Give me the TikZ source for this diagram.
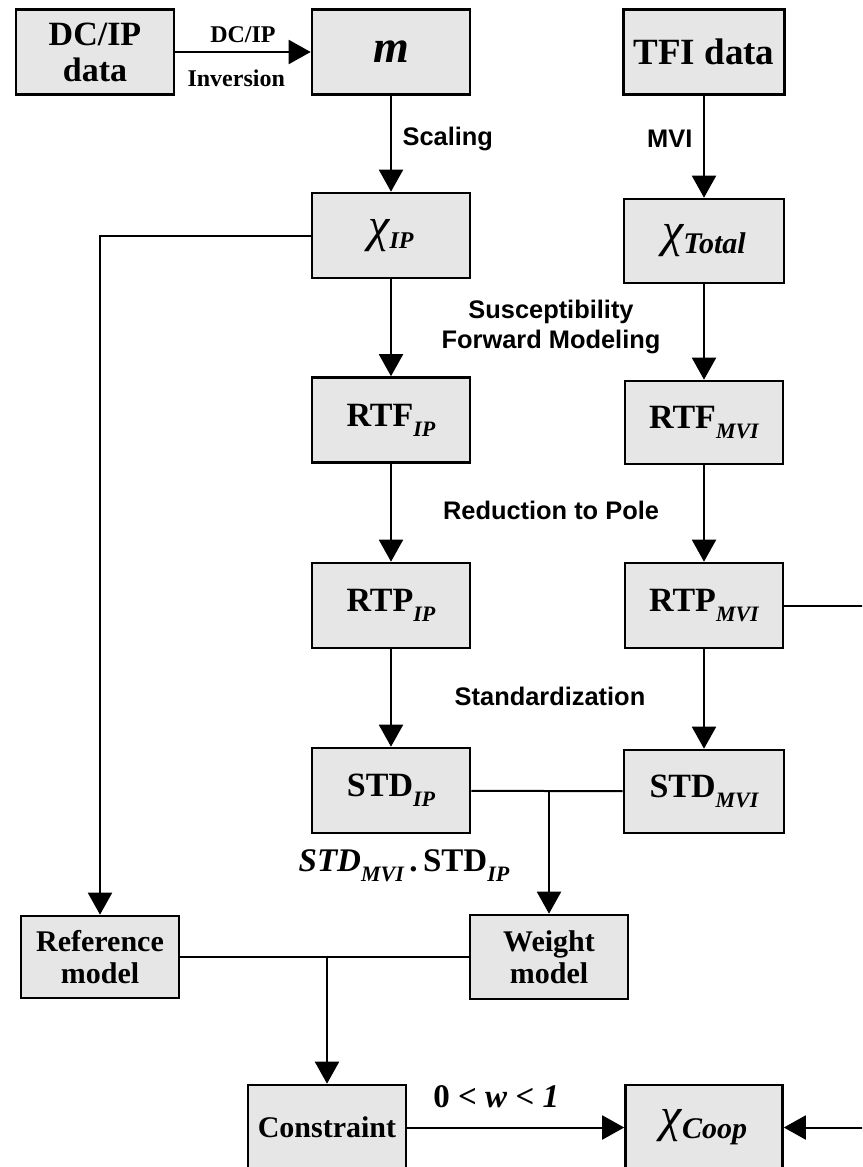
\documentclass[tikz,border=0pt]{standalone}
\usepackage{fontspec}
\setmainfont{Liberation Serif}
\setsansfont{Liberation Sans}
\usetikzlibrary{arrows.meta}
\definecolor{boxgray}{RGB}{230,230,230}
\newcommand{\idx}[2][11]{\raisebox{-5pt}{\fontsize{#1}{#1}\selectfont\bfseries\itshape #2}}
\newcommand{\chiof}[2][15]{{\fontseries{m}\itshape\fontsize{24}{26}\selectfont χ}\raisebox{-3.5pt}{\fontsize{#1}{#1}\selectfont\bfseries\itshape #2}}

\begin{document}
\begin{tikzpicture}[
	x=0.5pt, y=-0.5pt, line width=1pt,
	>={Triangle[length=11pt, width=12pt]},
	box/.style={draw, line width=1.3pt, fill=boxgray, inner sep=0pt, align=center,
		minimum width=79pt, minimum height=42.5pt, font=\bfseries\fontsize{17}{18}\selectfont},
	small/.style={box, font=\bfseries\fontsize{15}{16}\selectfont, minimum height=41pt},
	lbl/.style={font=\sffamily\bfseries\fontsize{12.7}{15}\selectfont, align=center},
	tlbl/.style={font=\bfseries\fontsize{12}{14}\selectfont}
	]
	\useasboundingbox (0,0) rectangle (862,1167);
	\clip (0,0) rectangle (862,1167);
	% boxes
	\node[box] (dcip) at (95,52) {DC/IP\\data};
	\node[box, font=\bfseries\itshape\fontsize{23}{24}\selectfont] (m) at (391,52) {m};
	\node[box, minimum width=80.5pt, font=\bfseries\fontsize{18.5}{20}\selectfont] (tfi) at (704,52) {TFI data};
	\node[box] (chiip) at (391,235.5) {\chiof[12]{IP}};
	\node[box, minimum width=80pt, minimum height=42pt] (chitot) at (704,241) {\chiof{Total}};
	\node[box] (rtfip) at (391,420) {RTF\idx{IP}};
	\node[box, minimum height=41.5pt] (rtfmvi) at (704,422.5) {RTF\idx{MVI}};
	\node[box] (rtpip) at (391,605.5) {RTP\idx{IP}};
	\node[box] (rtpmvi) at (704,605.5) {RTP\idx{MVI}};
	\node[box] (stdip) at (391,790.5) {STD\idx{IP}};
	\node[box, minimum width=80pt, minimum height=41.5pt] (stdmvi) at (704,791.5) {STD\idx{MVI}};
	\node[small] (refm) at (100,957) {Reference\\model};
	\node[small, minimum height=42pt] (weight) at (549,957) {Weight\\model};
	\node[small, minimum height=42.5pt] (cons) at (327,1127.5) {Constraint};
	\node[box, minimum width=78.5pt] (coop) at (704,1127.5) {\chiof{Coop}};
	% labels between columns
	\node[lbl] (suscep) at (551,327) {Susceptibility\\Forward Modeling};
	\node[lbl] (redpole) at (551,510) {Reduction to Pole};
	\node[lbl] (stdz) at (550,696) {Standardization};
	\node[font=\bfseries\fontsize{16.5}{18}\selectfont] (prod) at (404,866) {\textit{STD\idx{MVI}}\,.\,STD\idx{IP}};
	% connectors
	\path[->]
	(dcip) edge node[above=1pt, tlbl] {DC/IP} node[below=5pt, tlbl, pos=0.45] {Inversion} (m)
	(m) edge node[right=2pt, lbl, pos=0.45] {Scaling} (chiip)
	(tfi) edge node[left=2pt, lbl, pos=0.42] {MVI} (chitot)
	(chiip) edge (rtfip)
	(chitot) edge (rtfmvi)
	(rtfip) edge (rtpip)
	(rtfmvi) edge (rtpmvi)
	(rtpip) edge (stdip)
	(rtpmvi) edge (stdmvi)
	(cons) edge node[above=6pt, pos=0.41, font=\bfseries\fontsize{16.5}{18}\selectfont] {0 < \textit{w} < \textit{1}} (coop);
	\draw[->] (chiip) -| (refm);
	\draw (stdip) -- (stdmvi);
	\draw[->] (stdip.east -| weight.north) -- (weight);
	\draw (refm) -- (weight);
	\draw[->] (refm.east -| cons.north) -- (cons);
	\coordinate (rim) at (880,605.5);
	\draw[->] (rtpmvi) -- (rim) |- (coop);
\end{tikzpicture}
\end{document}
